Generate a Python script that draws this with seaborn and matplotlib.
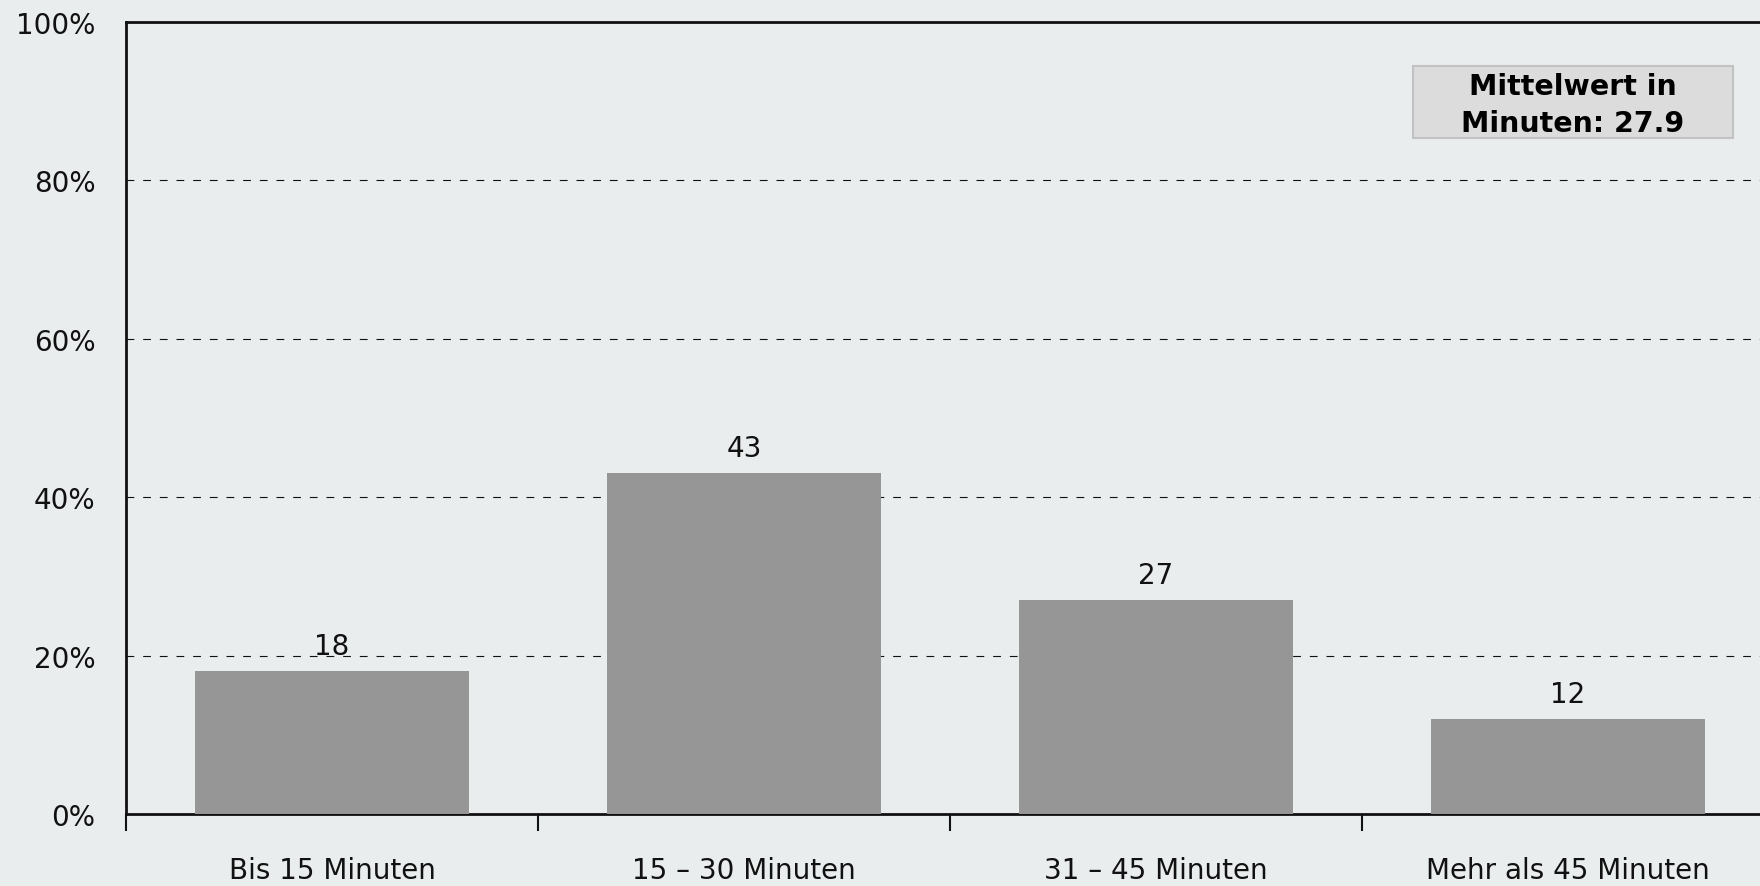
import matplotlib
matplotlib.use("Agg")
import matplotlib.pyplot as plt
import matplotlib.patches as mpatches
import seaborn as sns
import pandas as pd
import numpy as np
from matplotlib.ticker import FixedLocator, PercentFormatter

categories = ["Bis 15 Minuten", "15 – 30 Minuten", "31 – 45 Minuten", "Mehr als 45 Minuten"]
values = [18, 43, 27, 12]
y_ticks = [0, 20, 40, 60, 80, 100]
note_text = "Mittelwert in\nMinuten: 27.9"

sns.set_theme(style="white")
plt.rcParams['font.family'] = ['DejaVu Sans']

bg = "#e9eded"
fig = plt.figure(figsize=(17.6, 8.87), dpi=100, facecolor=bg)
ax = fig.add_axes([126/1760, (887-815)/887, (1774-126)/1760, (815-23)/887])
ax.set_facecolor(bg)

df = pd.DataFrame({"cat": categories, "val": values})
sns.barplot(data=df, x="cat", y="val", color="#969696", saturation=1, width=0.665, ax=ax, zorder=3)
for p in ax.patches:
    p.set_edgecolor("none")

ax.set_xlim(-0.5, len(categories) - 0.5)
ax.set_ylim(0, 100)
ax.set_yticks(y_ticks)
ax.yaxis.set_major_formatter(PercentFormatter(decimals=0))
ax.grid(False)
for t in y_ticks[1:-1]:
    ax.axhline(t, color="#111111", lw=0.8, ls=(0, (7, 8)), zorder=1)

ax.set_xlabel("")
ax.set_ylabel("")
ax.tick_params(axis="x", which="major", bottom=False, length=0, pad=30, labelsize=20, colors="#111111")
ax.xaxis.set_minor_locator(FixedLocator(np.arange(-0.5, len(categories), 1.0)))
ax.tick_params(axis="x", which="minor", bottom=True, length=12, width=1.5, color="#111111", direction="out")
ax.tick_params(axis="y", which="major", length=0, pad=22, labelsize=20, colors="#111111")

for s in ["left", "top", "bottom"]:
    ax.spines[s].set_visible(True)
    ax.spines[s].set_color("#111111")
    ax.spines[s].set_linewidth(2)
ax.spines["right"].set_visible(False)

ax.bar_label(ax.containers[0], labels=[str(v) for v in values], padding=8, fontsize=20, color="#111111")

box = mpatches.Rectangle((0.781, 0.8535), 0.194, 0.0905, transform=ax.transAxes,
                         facecolor="#dcdcdc", edgecolor="#c2c2c2", lw=1.5, zorder=5)
ax.add_patch(box)
ax.text(0.878, 0.896, note_text, transform=ax.transAxes, ha="center", va="center",
        fontsize=20.5, fontweight="bold", color="#000000", linespacing=1.4, zorder=6)

fig.savefig("out.png", dpi=100, facecolor=bg)
